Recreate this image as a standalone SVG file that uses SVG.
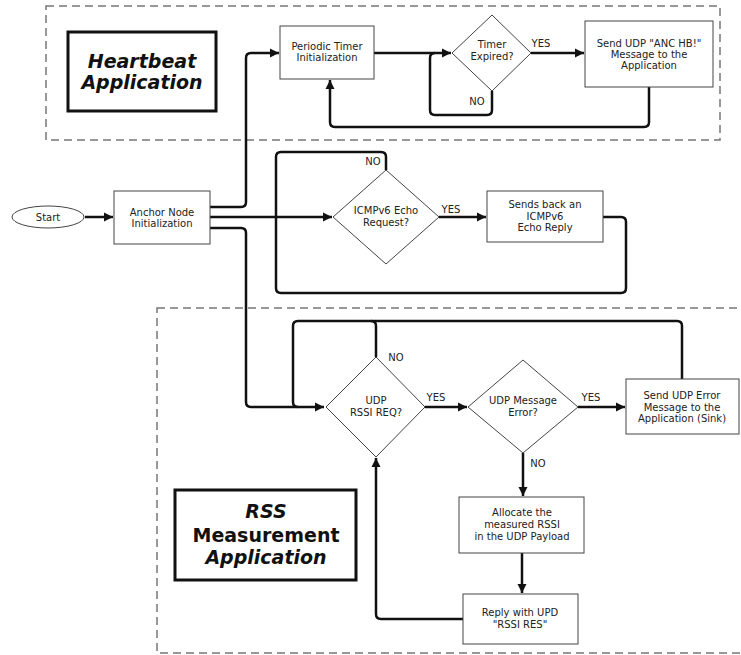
<svg xmlns="http://www.w3.org/2000/svg" width="741" height="655" viewBox="0 0 741 655">
  <defs>
    <marker id="arrow" markerUnits="userSpaceOnUse" markerWidth="10" markerHeight="10" refX="9" refY="5" orient="auto">
      <path d="M0,0.5 L9,5 L0,9.5 z" fill="#111"/>
    </marker>
    <style>
      .region { fill: none; stroke: #777; stroke-width: 1.5; stroke-dasharray: 8 5; }
      .title { fill: #fff; stroke: #111; stroke-width: 3; }
      .box { fill: #fff; stroke: #444; stroke-width: 1; }
      .flow { fill: none; stroke: #111; stroke-width: 2.5; stroke-linejoin: round; }
      .arr { marker-end: url(#arrow); }
      text { font-family: "DejaVu Sans", Verdana, sans-serif; fill: #222; }
      .lbl { font-size: 10px; text-anchor: middle; }
      .big { font-size: 19px; font-weight: bold; text-anchor: middle; fill: #111; }
      .it { font-style: italic; }
    </style>
  </defs>
  <rect width="741" height="655" fill="#fff"/>

  <!-- application regions -->
  <rect class="region" x="46" y="6" width="674" height="134"/>
  <rect class="region" x="157" y="308" width="600" height="345"/>

  <!-- connectors -->
  <g id="connectors">
    <path class="flow arr" d="M85,217 H113"/>
    <path class="flow arr" d="M210,207 H241 Q246,207 246,202 V58 Q246,53 251,53 H279"/>
    <path class="flow arr" d="M374,53 H451"/>
    <path class="flow arr" d="M531,53 H584"/>
    <path class="flow" d="M492,91 V110 Q492,115 487,115 H435 Q430,115 430,110 V58 Q430,53 435,53"/>
    <path class="flow arr" d="M649,87 V122 Q649,127 644,127 H335 Q330,127 330,122 V80"/>

    <path class="flow arr" d="M210,217 H332"/>
    <path class="flow" d="M386,170 V157 Q386,152 381,152 H281 Q276,152 276,157 V288 Q276,293 281,293 H621 Q626,293 626,288 V222 Q626,217 621,217 H603"/>
    <path class="flow arr" d="M439,217 H486"/>

    <path class="flow arr" d="M210,228 H241 Q246,228 246,233 V402 Q246,407 251,407 H324"/>
    <path class="flow" d="M682,379 V326 Q682,321 677,321 H298 Q293,321 293,326 V402 Q293,407 298,407"/>
    <path class="flow" d="M376,357 V326 Q376,321 371,321"/>
    <path class="flow arr" d="M425,407 H467"/>
    <path class="flow arr" d="M578,407 H625"/>
    <path class="flow arr" d="M523,453 V496"/>
    <path class="flow arr" d="M522,553 V593"/>
    <path class="flow arr" d="M463,619 H381 Q376,619 376,614 V458"/>
  </g>

  <!-- branch labels -->
  <g id="branch-labels">
    <text class="lbl" x="541" y="47">YES</text>
    <text class="lbl" x="477" y="105">NO</text>
    <text class="lbl" x="373" y="165">NO</text>
    <text class="lbl" x="451" y="213">YES</text>
    <text class="lbl" x="396" y="361">NO</text>
    <text class="lbl" x="436" y="401">YES</text>
    <text class="lbl" x="591" y="401">YES</text>
    <text class="lbl" x="538" y="467">NO</text>
  </g>

  <!-- heartbeat application -->
  <g id="heartbeat-title">
    <rect class="title" x="68" y="32" width="148" height="79"/>
    <text class="big it" x="142" y="68">Heartbeat</text>
    <text class="big it" x="142" y="89">Application</text>
  </g>
  <g id="periodic-timer">
    <rect class="box" x="280" y="26" width="94" height="53"/>
    <text class="lbl" x="327" y="50">Periodic Timer</text>
    <text class="lbl" x="327" y="61">Initialization</text>
  </g>
  <g id="timer-expired">
    <polygon class="box" points="492,15 531,53 492,91 452,53"/>
    <text class="lbl" x="492" y="48">Timer</text>
    <text class="lbl" x="492" y="60">Expired?</text>
  </g>
  <g id="send-hb">
    <rect class="box" x="585" y="21" width="128" height="66"/>
    <text class="lbl" x="649" y="47">Send UDP "ANC HB!"</text>
    <text class="lbl" x="649" y="58">Message to the</text>
    <text class="lbl" x="649" y="69">Application</text>
  </g>

  <!-- start and initialization -->
  <g id="start">
    <ellipse class="box" cx="48" cy="217" rx="36" ry="11"/>
    <text class="lbl" x="48" y="221">Start</text>
  </g>
  <g id="anchor-init">
    <rect class="box" x="114" y="191" width="96" height="53"/>
    <text class="lbl" x="162" y="216">Anchor Node</text>
    <text class="lbl" x="162" y="227">Initialization</text>
  </g>

  <!-- echo handling -->
  <g id="icmp-request">
    <polygon class="box" points="386,170 439,217 386,264 333,217"/>
    <text class="lbl" x="386" y="214">ICMPv6 Echo</text>
    <text class="lbl" x="386" y="226">Request?</text>
  </g>
  <g id="echo-reply">
    <rect class="box" x="487" y="191" width="116" height="51"/>
    <text class="lbl" x="545" y="208">Sends back an</text>
    <text class="lbl" x="545" y="220">ICMPv6</text>
    <text class="lbl" x="545" y="231">Echo Reply</text>
  </g>

  <!-- RSS measurement application -->
  <g id="rss-title">
    <rect class="title" x="175" y="490" width="181" height="90"/>
    <text class="big it" x="266" y="518">RSS</text>
    <text class="big" x="266" y="542">Measurement</text>
    <text class="big it" x="266" y="564">Application</text>
  </g>
  <g id="rssi-request">
    <polygon class="box" points="376,357 425,407 376,457 326,407"/>
    <text class="lbl" x="376" y="404">UDP</text>
    <text class="lbl" x="376" y="416">RSSI REQ?</text>
  </g>
  <g id="udp-error">
    <polygon class="box" points="523,360 578,407 523,453 468,407"/>
    <text class="lbl" x="523" y="404">UDP Message</text>
    <text class="lbl" x="523" y="416">Error?</text>
  </g>
  <g id="send-error">
    <rect class="box" x="626" y="379" width="113" height="55"/>
    <text class="lbl" x="682" y="399">Send UDP Error</text>
    <text class="lbl" x="682" y="411">Message to the</text>
    <text class="lbl" x="682" y="422">Application (Sink)</text>
  </g>
  <g id="allocate-rssi">
    <rect class="box" x="459" y="497" width="125" height="56"/>
    <text class="lbl" x="522" y="516">Allocate the</text>
    <text class="lbl" x="522" y="528">measured RSSI</text>
    <text class="lbl" x="522" y="540">in the UDP Payload</text>
  </g>
  <g id="reply-rssi">
    <rect class="box" x="463" y="594" width="115" height="50"/>
    <text class="lbl" x="520" y="616">Reply with UPD</text>
    <text class="lbl" x="520" y="628">"RSSI RES"</text>
  </g>
</svg>
